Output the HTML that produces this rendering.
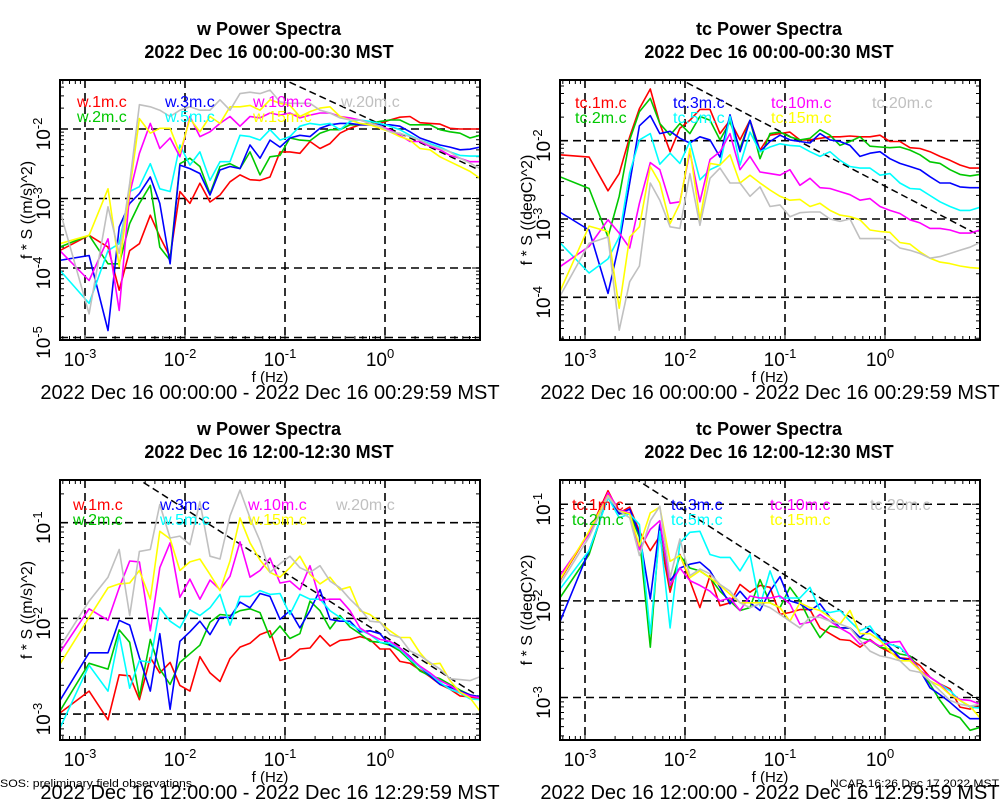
<!DOCTYPE html>
<html><head><meta charset="utf-8"><style>
html,body{margin:0;padding:0;background:#fff;}
svg{display:block;font-family:"Liberation Sans",sans-serif;}
</style></head><body>
<svg id="chart" width="1000" height="800" viewBox="0 0 1000 800" xmlns="http://www.w3.org/2000/svg"></svg>
<script>
// frequencies (Hz)
const freqs = [5.6e-4,1.1e-3,1.7e-3,2.2e-3,2.8e-3,3.5e-3,4.5e-3,5.6e-3,7.1e-3,8.9e-3,0.0112,0.0141,0.0178,0.0224,0.0282,0.0355,0.0447,0.0562,0.0708,0.0891,0.112,0.141,0.178,0.224,0.282,0.355,0.447,0.562,0.708,0.891,1.12,1.41,1.78,2.24,2.82,3.55,4.47,5.62,7.08,8.91];
const heights = ["1m","2m","3m","5m","10m","15m","20m"];
// log10(f*S) values per panel/series
const wA_1m = [-3.75,-3.53,-3.70,-4.32,-3.75,-3.65,-3.24,-3.55,-3.84,-2.90,-3.07,-2.78,-3.05,-2.95,-2.76,-2.66,-2.73,-2.74,-2.69,-2.33,-2.33,-2.35,-2.18,-2.28,-2.21,-2.06,-1.99,-1.94,-1.94,-1.92,-1.87,-1.83,-1.82,-1.91,-1.92,-1.93,-1.99,-2.00,-2.00,-2.00];
const wA_2m = [-3.70,-3.53,-3.94,-3.94,-3.36,-3.07,-2.81,-3.70,-3.89,-2.50,-2.42,-2.54,-2.93,-2.54,-2.50,-2.57,-2.33,-2.66,-2.40,-2.38,-2.13,-2.16,-2.17,-2.06,-2.01,-2.01,-1.94,-1.94,-1.92,-1.89,-1.87,-1.87,-1.94,-1.94,-1.94,-2.01,-2.04,-2.06,-2.13,-2.09];
const wA_3m = [-3.89,-3.82,-4.90,-3.41,-3.07,-2.93,-2.69,-3.07,-3.94,-2.52,-2.57,-2.64,-2.95,-2.59,-2.54,-2.57,-2.23,-2.42,-2.16,-2.26,-2.13,-2.09,-2.11,-1.99,-1.94,-1.92,-1.92,-1.94,-1.94,-1.94,-1.94,-1.96,-2.04,-2.13,-2.18,-2.23,-2.26,-2.30,-2.29,-2.26];
const wA_5m = [-4.03,-4.51,-3.75,-3.65,-2.90,-2.83,-2.50,-2.86,-2.90,-2.23,-2.52,-2.33,-2.74,-2.47,-2.47,-2.09,-2.11,-2.16,-2.01,-2.16,-2.11,-1.96,-1.92,-1.94,-1.92,-2.01,-1.89,-1.87,-1.89,-1.92,-1.96,-2.01,-2.09,-2.16,-2.21,-2.26,-2.33,-2.38,-2.39,-2.39];
const wA_10m = [-3.75,-4.18,-3.58,-4.61,-2.93,-2.35,-1.92,-2.28,-2.13,-2.40,-1.82,-2.11,-2.04,-1.92,-1.82,-1.96,-1.82,-1.84,-1.77,-1.80,-1.77,-1.84,-1.80,-1.77,-1.77,-1.82,-1.84,-1.87,-1.92,-1.96,-2.01,-2.09,-2.18,-2.18,-2.25,-2.30,-2.38,-2.42,-2.47,-2.47];
const wA_15m = [-3.65,-3.53,-2.86,-3.98,-2.88,-1.85,-2.06,-1.99,-1.99,-2.35,-1.85,-2.04,-1.82,-1.92,-1.68,-1.68,-1.66,-1.73,-1.58,-1.63,-1.66,-1.82,-1.75,-1.70,-1.68,-1.82,-1.87,-1.92,-1.94,-1.99,-2.04,-2.11,-2.16,-2.28,-2.30,-2.40,-2.47,-2.54,-2.61,-2.71];
const wA_20m = [-3.17,-4.66,-3.12,-3.79,-2.78,-1.65,-1.68,-1.73,-1.82,-1.73,-1.68,-1.73,-1.73,-1.58,-1.73,-1.49,-1.47,-1.49,-1.44,-1.61,-1.63,-1.63,-1.63,-1.73,-1.77,-1.84,-1.87,-1.87,-1.92,-1.96,-2.04,-2.06,-2.11,-2.16,-2.23,-2.28,-2.33,-2.42,-2.49,-2.57];

const tcA_1m = [-2.18,-2.21,-2.64,-2.42,-1.95,-1.59,-1.34,-1.78,-2.14,-1.84,-1.74,-1.60,-1.60,-1.91,-1.74,-1.99,-1.74,-2.12,-1.93,-1.91,-1.89,-1.99,-1.99,-1.97,-1.95,-1.95,-1.94,-1.95,-1.95,-1.93,-2.01,-2.01,-2.09,-2.10,-2.14,-2.20,-2.25,-2.31,-2.35,-2.35];
const tcA_2m = [-2.46,-2.61,-3.23,-2.71,-1.99,-1.63,-1.46,-1.78,-1.93,-1.78,-1.91,-1.69,-1.74,-1.99,-1.76,-2.10,-1.74,-2.23,-1.91,-1.89,-1.95,-1.99,-1.97,-1.86,-1.93,-2.06,-2.01,-1.95,-2.07,-2.08,-2.09,-2.08,-2.12,-2.18,-2.27,-2.29,-2.37,-2.43,-2.45,-2.43];
const tcA_3m = [-2.91,-3.14,-3.95,-3.31,-2.54,-1.81,-1.68,-1.91,-1.88,-1.97,-2.03,-1.95,-1.99,-2.21,-1.67,-2.14,-1.74,-2.14,-2.01,-1.93,-1.99,-2.01,-2.03,-1.91,-1.99,-2.01,-2.06,-2.20,-2.16,-2.14,-2.23,-2.29,-2.33,-2.37,-2.46,-2.54,-2.54,-2.59,-2.60,-2.60];
const tcA_5m = [-3.30,-3.69,-3.51,-3.23,-2.41,-1.99,-1.91,-2.30,-2.16,-2.29,-2.01,-2.50,-2.37,-2.31,-1.69,-2.31,-1.89,-2.14,-2.08,-2.04,-2.06,-2.07,-2.14,-2.20,-2.14,-2.25,-2.33,-2.35,-2.35,-2.44,-2.42,-2.54,-2.61,-2.62,-2.70,-2.78,-2.84,-2.89,-2.89,-2.85];
const tcA_10m = [-3.61,-3.35,-3.01,-3.18,-3.37,-2.80,-2.28,-2.37,-2.80,-2.78,-2.14,-2.78,-2.24,-2.14,-1.91,-2.37,-2.20,-2.40,-2.42,-2.44,-2.37,-2.57,-2.48,-2.60,-2.61,-2.65,-2.69,-2.76,-2.74,-2.84,-2.89,-2.93,-3.01,-3.05,-3.12,-3.12,-3.14,-3.18,-3.18,-3.14];
const tcA_15m = [-3.93,-3.09,-3.16,-4.14,-3.23,-3.10,-2.33,-2.54,-3.06,-2.80,-2.10,-3.01,-2.29,-2.31,-2.18,-2.54,-2.44,-2.54,-2.63,-2.71,-2.76,-2.75,-2.84,-2.80,-2.89,-2.95,-2.97,-3.01,-3.14,-3.16,-3.17,-3.30,-3.32,-3.42,-3.50,-3.55,-3.57,-3.60,-3.62,-3.63];
const tcA_20m = [-3.99,-3.31,-3.23,-4.42,-3.80,-3.60,-2.54,-2.76,-3.10,-3.12,-2.42,-3.08,-2.48,-2.35,-2.54,-2.54,-2.71,-2.59,-2.84,-2.82,-2.97,-2.92,-2.91,-2.91,-3.00,-3.03,-3.00,-3.25,-3.25,-3.25,-3.27,-3.37,-3.40,-3.44,-3.50,-3.48,-3.44,-3.40,-3.36,-3.30];

const wB_1m = [-2.99,-2.76,-3.06,-2.59,-2.60,-2.85,-2.41,-2.57,-2.46,-2.70,-2.76,-2.40,-2.57,-2.66,-2.42,-2.30,-2.26,-2.17,-2.13,-2.44,-2.41,-2.32,-2.31,-2.18,-2.29,-2.23,-2.22,-2.19,-2.22,-2.32,-2.32,-2.45,-2.47,-2.54,-2.61,-2.69,-2.74,-2.81,-2.82,-2.84];
const wB_2m = [-2.97,-2.47,-2.53,-2.12,-2.25,-2.82,-2.22,-2.53,-2.69,-2.46,-2.37,-2.28,-2.04,-1.96,-1.97,-1.92,-1.90,-1.94,-2.20,-2.08,-2.21,-2.16,-1.82,-1.92,-2.11,-1.97,-2.09,-2.16,-2.24,-2.25,-2.28,-2.34,-2.44,-2.55,-2.60,-2.63,-2.69,-2.75,-2.80,-2.82];
const wB_3m = [-2.86,-2.36,-2.36,-2.02,-2.07,-2.41,-2.76,-2.16,-2.95,-2.24,-2.14,-2.03,-2.17,-1.99,-1.99,-1.83,-1.89,-1.74,-1.77,-2.01,-1.92,-2.10,-1.92,-1.70,-2.01,-2.03,-2.03,-2.14,-2.13,-2.16,-2.28,-2.31,-2.40,-2.51,-2.60,-2.69,-2.72,-2.76,-2.80,-2.82];
const wB_5m = [-3.15,-2.49,-2.76,-2.17,-2.73,-2.44,-2.46,-1.89,-2.03,-2.10,-1.91,-1.97,-1.89,-1.75,-2.07,-1.77,-1.77,-1.71,-1.75,-1.74,-1.96,-1.75,-1.80,-1.80,-1.92,-1.99,-2.06,-2.12,-2.17,-2.25,-2.26,-2.32,-2.43,-2.51,-2.58,-2.67,-2.74,-2.78,-2.84,-2.85];
const wB_10m = [-2.36,-1.90,-2.02,-1.68,-1.40,-1.41,-2.13,-1.47,-1.21,-1.78,-1.59,-1.80,-1.60,-1.70,-1.56,-1.20,-1.57,-1.50,-1.37,-1.63,-1.61,-1.70,-1.45,-1.81,-1.80,-1.80,-1.92,-2.10,-2.17,-2.22,-2.24,-2.31,-2.41,-2.50,-2.57,-2.65,-2.70,-2.77,-2.81,-2.83];
const wB_15m = [-2.48,-1.99,-1.68,-1.64,-1.63,-1.50,-1.80,-1.09,-1.17,-1.50,-1.41,-1.38,-1.54,-1.71,-1.40,-0.95,-1.21,-1.39,-1.52,-1.57,-1.47,-1.35,-1.54,-1.64,-1.57,-1.70,-1.67,-1.92,-1.96,-2.04,-2.13,-2.20,-2.20,-2.36,-2.48,-2.47,-2.65,-2.77,-2.83,-2.97];
const wB_20m = [-2.30,-1.82,-1.57,-1.28,-1.97,-1.30,-1.28,-0.81,-1.16,-1.14,-1.23,-0.78,-1.35,-1.38,-0.93,-0.66,-0.95,-1.19,-1.52,-1.43,-1.35,-1.47,-1.52,-1.45,-1.61,-1.68,-1.80,-1.90,-2.03,-2.04,-2.17,-2.20,-2.34,-2.39,-2.46,-2.53,-2.63,-2.64,-2.65,-2.61];

const tcB_1m = [-1.79,-1.29,-0.86,-1.09,-1.03,-1.28,-1.48,-1.33,-1.91,-1.52,-1.79,-2.07,-1.74,-2.05,-2.02,-1.83,-1.91,-1.84,-1.86,-2.14,-2.12,-2.09,-2.09,-2.28,-2.34,-2.40,-2.41,-2.48,-2.40,-2.48,-2.53,-2.59,-2.60,-2.67,-2.79,-2.86,-2.91,-3.10,-3.12,-3.07];
const tcB_2m = [-1.97,-1.52,-0.90,-1.10,-1.09,-1.34,-2.48,-1.21,-1.86,-1.53,-1.66,-1.69,-1.76,-1.90,-2.00,-2.10,-2.07,-1.78,-2.02,-2.07,-1.86,-2.00,-2.21,-2.38,-2.26,-2.28,-2.28,-2.38,-2.41,-2.48,-2.50,-2.55,-2.57,-2.72,-2.86,-3.03,-3.17,-3.21,-3.34,-3.31];
const tcB_3m = [-2.22,-1.48,-0.93,-1.10,-1.05,-1.31,-1.98,-1.21,-1.79,-1.66,-1.62,-1.60,-1.69,-1.86,-2.03,-1.90,-2.02,-2.10,-1.90,-1.75,-2.00,-2.03,-2.10,-2.03,-2.17,-2.28,-2.28,-2.38,-2.30,-2.38,-2.48,-2.59,-2.62,-2.72,-2.90,-2.97,-3.05,-3.14,-3.22,-3.22];
const tcB_5m = [-1.88,-1.48,-0.93,-1.14,-1.10,-1.21,-2.34,-1.28,-2.28,-1.40,-1.29,-1.28,-1.52,-1.55,-1.55,-1.69,-1.52,-2.05,-1.69,-1.97,-1.97,-1.97,-1.86,-2.10,-2.12,-2.10,-2.21,-2.31,-2.26,-2.41,-2.45,-2.48,-2.59,-2.72,-2.79,-2.86,-2.93,-3.03,-3.10,-3.11];
const tcB_10m = [-1.74,-1.31,-0.88,-1.06,-1.09,-1.47,-1.26,-1.17,-1.84,-1.66,-1.79,-1.84,-1.90,-2.00,-1.97,-2.10,-1.95,-1.97,-1.97,-1.95,-2.03,-2.24,-2.22,-2.14,-2.21,-2.28,-2.34,-2.45,-2.41,-2.47,-2.43,-2.42,-2.59,-2.72,-2.79,-2.86,-2.97,-3.02,-3.03,-3.07];
const tcB_15m = [-1.78,-1.28,-0.91,-1.07,-1.10,-1.43,-1.09,-1.03,-1.59,-1.53,-1.76,-1.69,-1.76,-1.84,-1.93,-2.02,-2.02,-2.02,-2.02,-2.07,-2.21,-2.02,-2.07,-2.10,-2.17,-2.24,-2.10,-2.34,-2.34,-2.41,-2.52,-2.62,-2.62,-2.72,-2.83,-2.88,-2.97,-3.03,-3.09,-3.21];
const tcB_20m = [-1.83,-1.34,-0.92,-1.07,-1.14,-1.53,-1.17,-1.02,-1.76,-1.36,-1.74,-1.67,-1.72,-1.83,-1.90,-2.02,-2.07,-2.03,-2.07,-2.14,-2.21,-2.28,-2.17,-2.17,-2.21,-2.24,-2.28,-2.41,-2.52,-2.57,-2.59,-2.62,-2.72,-2.74,-2.83,-2.93,-3.03,-3.07,-3.09,-3.07];

// reference -2/3 slope lines: log10 value at f = 1 Hz
const refAtOne = [-1.962, -2.58, -2.19, -2.40];
const xTickExps = [-3,-2,-1,0];

const NS = "http://www.w3.org/2000/svg";
const svg = document.getElementById('chart');
const colors = ["#ff0000","#00c800","#0000ff","#00ffff","#ff00ff","#ffff00","#c0c0c0"];

const panels = [
 {name:"w-top", v:"w", L:60, T:80, B:340, yMin:-5.036, yMax:-1.295, yTicks:[-5,-4,-3,-2], unit:"((m/s)^2)", title2:"2022 Dec 16 00:00-00:30 MST", date:"2022 Dec 16 00:00:00 - 2022 Dec 16 00:29:59 MST", series:[wA_1m,wA_2m,wA_3m,wA_5m,wA_10m,wA_15m,wA_20m], legX:[77,165,253,341], legY:[107,122]},
 {name:"tc-top", v:"tc", L:560, T:80, B:340, yMin:-4.545, yMax:-1.225, yTicks:[-4,-3,-2], unit:"((degC)^2)", title2:"2022 Dec 16 00:00-00:30 MST", date:"2022 Dec 16 00:00:00 - 2022 Dec 16 00:29:59 MST", series:[tcA_1m,tcA_2m,tcA_3m,tcA_5m,tcA_10m,tcA_15m,tcA_20m], legX:[575,673,771,872], legY:[108,123]},
 {name:"w-bottom", v:"w", L:60, T:480, B:740, yMin:-3.271, yMax:-0.554, yTicks:[-3,-2,-1], unit:"((m/s)^2)", title2:"2022 Dec 16 12:00-12:30 MST", date:"2022 Dec 16 12:00:00 - 2022 Dec 16 12:29:59 MST", series:[wB_1m,wB_2m,wB_3m,wB_5m,wB_10m,wB_15m,wB_20m], legX:[73,160,248,336], legY:[510,525]},
 {name:"tc-bottom", v:"tc", L:560, T:480, B:740, yMin:-3.44, yMax:-0.749, yTicks:[-3,-2,-1], unit:"((degC)^2)", title2:"2022 Dec 16 12:00-12:30 MST", date:"2022 Dec 16 12:00:00 - 2022 Dec 16 12:29:59 MST", series:[tcB_1m,tcB_2m,tcB_3m,tcB_5m,tcB_10m,tcB_15m,tcB_20m], legX:[572,671,770,870], legY:[510,525]}
];
const xMin=-3.25, xMax=0.95, W=420;

function mk(tag, attrs, parent){const e=document.createElementNS(NS,tag);for(const k in attrs)e.setAttribute(k,attrs[k]);(parent||svg).appendChild(e);return e;}

panels.forEach((p,pi)=>{
  const g = mk('g',{});
  
  
  const sx = lf => p.L + (lf-xMin)/(xMax-xMin)*W;
  const sy = lv => p.B - (lv-p.yMin)/(p.yMax-p.yMin)*(p.B-p.T);
  const cx = p.L + W/2;
  // titles
  const t1 = mk('text',{x:cx-1,y:p.T-45,'text-anchor':'middle','font-weight':'bold','font-size':18},g);
  t1.textContent = p.v+" Power Spectra";
  
  
  const t2 = mk('text',{x:cx-1,y:p.T-22,'text-anchor':'middle','font-weight':'bold','font-size':18},g);
  t2.textContent = p.title2;
  
  
  // clip
  const cp = mk('clipPath',{id:'clip'+pi},g);
  mk('rect',{x:p.L,y:p.T,width:W,height:p.B-p.T},cp);
  // grid
  xTickExps.forEach(e=>{
    const gl = mk('line',{x1:sx(e),x2:sx(e),y1:p.T,y2:p.B,stroke:'#000','stroke-width':1.6,'stroke-dasharray':'8,5'},g);
    
    
    const tl = mk('text',{x:sx(e)-5,y:p.B+26,'text-anchor':'middle','font-size':19},g);
    
    
    tl.appendChild(document.createTextNode('10'));
    const sp = mk('tspan',{dy:-8,'font-size':13},tl); sp.textContent=String(e);
  });
  p.yTicks.forEach(e=>{
    const y = sy(e);
    const gl = mk('line',{x1:p.L,x2:p.L+W,y1:y,y2:y,stroke:'#000','stroke-width':1.6,'stroke-dasharray':'8,5'},g);
    
    
    const tl = mk('text',{transform:`translate(${p.L-10},${y+5}) rotate(-90)`,'text-anchor':'middle','font-size':19},g);
    
    
    tl.appendChild(document.createTextNode('10'));
    const sp = mk('tspan',{dy:-8,'font-size':13},tl); sp.textContent=String(e);
  });
  // minor/major ticks
  let tp='';
  for(let d=-4; d<=1; d++) for(let m=1;m<=9;m++){
    const lf=d+Math.log10(m); if(lf<xMin||lf>xMax) continue;
    const len = m===1?8:4; const x=sx(lf);
    tp+=`M${x},${p.B}v${-len}M${x},${p.T}v${len}`;
  }
  for(let d=-6; d<=0; d++) for(let m=1;m<=9;m++){
    const lv=d+Math.log10(m); if(lv<p.yMin||lv>p.yMax) continue;
    const len = m===1?8:4; const y=sy(lv);
    tp+=`M${p.L},${y}h${len}M${p.L+W},${y}h${-len}`;
  }
  mk('path',{d:tp,stroke:'#000','stroke-width':1,fill:'none'},g);
  // reference line
  const rl = mk('line',{x1:sx(xMin),y1:sy(refAtOne[pi]-2/3*xMin),x2:sx(xMax),y2:sy(refAtOne[pi]-2/3*xMax),stroke:'#000','stroke-width':1.5,'stroke-dasharray':'7,4','clip-path':`url(#clip${pi})`},g);
  
  
  // series
  p.series.forEach((vals,si)=>{
    const pts = vals.map((v,i)=>sx(Math.log10(freqs[i])).toFixed(1)+','+sy(v).toFixed(1)).join(' ');
    const pl = mk('polyline',{points:pts,fill:'none',stroke:colors[si],'stroke-width':1.6,'stroke-linejoin':'round','clip-path':`url(#clip${pi})`},g);
    
    
  });
  // legend
  const order=[[0,0],[0,1],[1,0],[1,1],[2,0],[2,1],[3,0]];
  p.series.forEach((vals,si)=>{
    const [c,r]=order[si];
    const lt = mk('text',{x:p.legX[c],y:p.legY[r],'font-size':16,fill:colors[si]},g);
    lt.textContent = p.v+'.'+heights[si]+'.c';
    
    
  });
  // frame
  mk('rect',{x:p.L,y:p.T,width:W,height:p.B-p.T,fill:'none',stroke:'#000','stroke-width':2},g);
  // axis titles
  const xt = mk('text',{x:cx,y:p.B+42,'text-anchor':'middle','font-size':15},g);
  xt.textContent='f (Hz)';
  
  
  const yt = mk('text',{transform:`translate(${p.L-28},${(p.T+p.B)/2}) rotate(-90)`,'text-anchor':'middle','font-size':16},g);
  yt.textContent='f * S '+p.unit;
  
  
  const dt = mk('text',{x:cx+0,y:p.B+59,'text-anchor':'middle','font-size':20},g);
  dt.textContent=p.date;
  
  
});
const f1 = mk('text',{x:0,y:787,'font-size':11,textLength:192,lengthAdjust:'spacingAndGlyphs'});
f1.textContent='SOS: preliminary field observations';


const f2 = mk('text',{x:830,y:787,'font-size':11,textLength:169,lengthAdjust:'spacingAndGlyphs'});
f2.textContent='NCAR 16:26 Dec 17 2022 MST';


</script>
</body></html>
